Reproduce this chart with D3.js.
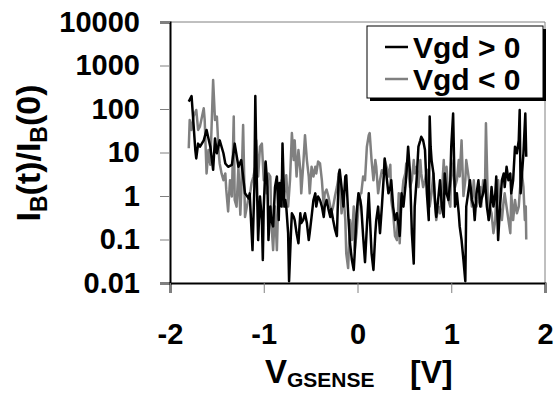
<!DOCTYPE html>
<html>
<head>
<meta charset="utf-8">
<script src="https://cdn.jsdelivr.net/npm/d3@7"></script>
<style>
  body { margin: 0; background: #fff; }
  svg { display: block; font-family: "Liberation Sans", Arial, sans-serif; font-weight: bold; }
</style>
</head>
<body>
<div id="chart"></div>
<script>
// tick labels
const yTicks = [0.01, 0.1, 1, 10, 100, 1000, 10000];
const yTickLabels = ["0.01", "0.1", "1", "10", "100", "1000", "10000"];
const xTicks = [-2, -1, 0, 1, 2];
const seriesNames = ["Vgd > 0", "Vgd < 0"];

// Vgd > 0 (black)
const blackV = [-1.80,-1.77,-1.73,-1.72,-1.70,-1.68,-1.64,-1.61,-1.57,-1.54,-1.52,-1.50,-1.47,-1.43,-1.41,-1.38,-1.34,-1.31,-1.27,-1.24,-1.20,-1.16,
  -1.15,-1.12,-1.10,-1.09,-1.08,-1.06,-1.04,-1.02,-1.01,-1.00,-0.98,-0.96,-0.95,-0.93,-0.92,-0.90,-0.88,-0.86,-0.84,-0.83,-0.81,-0.80,-0.78,-0.77,
  -0.76,-0.74,-0.73,-0.71,-0.70,-0.68,-0.67,-0.65,-0.63,-0.61,-0.60,-0.58,-0.56,-0.54,-0.52,-0.51,-0.49,-0.47,-0.45,-0.44,-0.42,-0.40,-0.38,-0.36,
  -0.35,-0.33,-0.31,-0.29,-0.28,-0.26,-0.24,-0.22,-0.20,-0.19,-0.17,-0.15,-0.13,-0.12,-0.10,-0.08,-0.06,-0.04,-0.03,-0.01,0.01,0.03,0.04,0.06,0.08,
  0.10,0.12,0.13,0.15,0.17,0.19,0.20,0.22,0.24,0.26,0.28,0.29,0.31,0.33,0.35,0.36,0.38,0.40,0.42,0.44,0.45,0.47,0.49,0.51,0.52,0.54,0.56,0.58,0.60,
  0.61,0.63,0.65,0.67,0.68,0.70,0.72,0.74,0.76,0.77,0.78,0.79,0.81,0.83,0.84,0.86,0.88,0.90,0.92,0.93,0.95,0.97,0.99,1.00,1.02,1.04,1.06,1.08,1.09,
  1.11,1.13,1.15,1.16,1.18,1.20,1.22,1.24,1.25,1.27,1.29,1.31,1.32,1.34,1.36,1.38,1.40,1.41,1.43,1.45,1.47,1.48,1.50,1.52,1.54,1.56,1.57,1.59,1.61,
  1.63,1.64,1.66,1.68,1.70,1.72,1.73,1.74,1.75,1.77,1.79,1.80];
const blackI = [148,199,11.4,7.3,16,13.6,19,33,13.6,4.0,21,9.6,19,9.6,5.6,4.7,5.2,16,4.7,6.7,1.15,0.88,
  1.15,0.057,1.6,199,9.6,0.097,0.97,0.28,0.034,0.57,6.2,1.6,0.097,0.57,0.28,0.20,1.6,2.8,0.28,2.0,0.57,16,0.57,0.81,
  0.57,0.14,0.011,0.14,0.40,0.33,0.28,0.14,0.082,0.40,0.24,0.28,0.40,0.24,0.097,0.14,0.33,0.81,1.15,0.57,0.97,0.81,0.57,0.33,
  0.57,0.81,0.5,0.33,0.5,0.28,0.17,0.12,3.2,4.0,1.6,0.57,2.8,3.0,0.40,0.082,0.034,0.020,0.048,0.40,1.15,0.81,0.57,0.12,0.03,
  0.20,1.15,0.40,0.048,0.020,0.14,0.28,0.57,0.14,0.57,2.8,7.3,2.8,1.15,1.6,2.3,0.57,0.28,0.40,0.20,0.12,1.15,0.57,1.6,2.8,13.6,3.3,0.14,0.028,
  0.57,2.3,13.6,19,23,19,11.4,1.15,0.28,67,13.6,6.7,3.3,0.57,0.33,0.81,2.3,0.57,0.33,3.3,1.15,0.81,2.3,13.6,79,0.57,1.15,0.40,0.20,
  0.097,0.034,0.011,0.57,1.15,2.3,0.81,0.57,0.28,1.15,2.3,0.57,0.81,1.15,2.3,0.57,0.28,0.40,1.6,0.57,1.15,2.8,0.097,0.57,2.3,3.3,1.6,4.7,2.3,
  3.3,1.15,2.3,13.6,9.6,19,95,1.15,2.3,9.6,79,8];

// Vgd < 0 (gray)
const grayV = [-1.80,-1.79,-1.77,-1.75,-1.72,-1.70,-1.68,-1.64,-1.63,-1.61,-1.59,-1.57,-1.54,-1.52,-1.50,-1.48,-1.47,-1.45,-1.43,-1.41,-1.40,-1.38,
  -1.36,-1.34,-1.32,-1.31,-1.29,-1.27,-1.25,-1.24,-1.22,-1.20,-1.18,-1.16,-1.15,-1.13,-1.11,-1.09,-1.08,-1.06,-1.04,-1.02,-1.00,-0.99,-0.97,-0.95,
  -0.93,-0.92,-0.90,-0.88,-0.86,-0.84,-0.83,-0.81,-0.79,-0.77,-0.76,-0.74,-0.72,-0.70,-0.68,-0.67,-0.65,-0.63,-0.61,-0.60,-0.58,-0.56,-0.54,-0.52,
  -0.51,-0.49,-0.47,-0.45,-0.44,-0.42,-0.40,-0.38,-0.36,-0.35,-0.33,-0.31,-0.29,-0.28,-0.26,-0.24,-0.22,-0.20,-0.19,-0.17,-0.15,-0.13,-0.12,-0.10,
  -0.08,-0.06,-0.04,-0.03,-0.01,0.01,0.03,0.04,0.06,0.08,0.10,0.12,0.13,0.15,0.17,0.19,0.20,0.22,0.24,0.26,0.28,0.29,0.31,0.33,0.35,0.36,0.38,
  0.40,0.42,0.44,0.45,0.47,0.49,0.51,0.52,0.54,0.56,0.58,0.60,0.61,0.63,0.65,0.67,0.68,0.70,0.72,0.74,0.76,0.77,0.79,0.81,0.83,0.84,0.86,0.88,0.90,
  0.92,0.93,0.95,0.97,0.99,1.00,1.02,1.04,1.06,1.08,1.09,1.11,1.13,1.15,1.16,1.18,1.20,1.22,1.24,1.25,1.27,1.29,1.31,1.32,1.34,1.36,1.37,1.39,1.40,
  1.41,1.43,1.45,1.47,1.48,1.50,1.52,1.54,1.56,1.57,1.59,1.61,1.63,1.64,1.66,1.68,1.70,1.72,1.73,1.75,1.77,1.785,1.795,1.80];
const grayI = [12.5,56,33,67,95,33,40,104,56,3.3,11.4,5.2,464,56,67,9.6,5.6,3.3,2.3,3.3,1.4,0.44,
  2.3,0.97,67,0.81,0.57,4.7,0.37,1.15,43,0.33,0.57,0.97,0.97,2.0,2.8,4.7,19,2.8,13.6,16,2.3,5.6,1.15,3.3,
  2.8,0.28,0.057,0.57,0.057,2.0,0.97,2.3,0.81,1.6,3.0,0.57,2.3,28,6.7,19,2.8,11.4,4.0,1.15,4.7,25,6.7,2.8,
  1.15,4.7,2.8,4.7,3.3,6.2,5.6,2.3,0.57,1.15,1.4,0.97,0.57,0.40,0.57,1.0,1.6,2.8,2.3,0.40,1.15,0.28,0.048,0.022,
  0.28,0.097,0.57,0.057,0.14,0.57,1.15,1.15,2.8,2.3,13.6,25,28,6.7,2.3,6.7,4.7,1.15,2.3,3.9,3.3,6.7,4.7,2.8,5.2,0.81,0.40,
  0.12,0.097,1.15,0.082,0.81,2.3,3.3,5.6,4.7,1.6,2.3,6.7,3.3,4.7,1.6,6.7,3.3,1.6,2.3,4.0,1.6,0.57,1.15,3.3,0.57,0.28,0.57,0.40,1.15,
  6.7,1.6,4.7,0.81,0.57,6.7,3.3,1.6,2.3,6.7,2.8,19,1.0,2.3,6.7,3.3,1.6,0.57,2.3,1.15,0.57,0.81,1.6,0.57,2.3,1.6,47,0.81,0.28,
  0.57,0.40,0.14,0.28,1.15,2.3,0.57,0.28,0.81,1.15,0.57,0.28,0.14,1.15,0.28,0.81,0.40,0.57,1.15,4.0,1.6,0.28,0.57,0.1];

const width = 556, height = 394;
const margin = {top: 22, left: 170, bottom: 111, right: 11};

const svg = d3.select("#chart").append("svg")
    .attr("width", width)
    .attr("height", height);

const x = d3.scaleLinear().domain([-2, 2]).range([margin.left, width - margin.right]);
const y = d3.scaleLog().domain([0.01, 10000]).range([height - margin.bottom, margin.top]);

// plot area frame (top/right are the light Excel border)
svg.append("path")
    .attr("d", `M${x(-2)},${y(10000)}H${x(2)}V${y(0.01)}`)
    .attr("fill", "none")
    .attr("stroke", "#808080")
    .attr("stroke-width", 1);

const line = d3.line()
    .x(d => x(d[0]))
    .y(d => y(d[1]));

const series = [
  {name: seriesNames[1], color: "#808080", pts: d3.zip(grayV, grayI)},
  {name: seriesNames[0], color: "#000000", pts: d3.zip(blackV, blackI)}
];

// black drawn on top of gray
svg.append("g")
  .selectAll("path")
  .data(series)
  .join("path")
    .attr("d", s => line(s.pts))
    .attr("fill", "none")
    .attr("stroke", s => s.color)
    .attr("stroke-width", 2.5)
    .attr("stroke-linejoin", "round");

// axes
const yAxis = d3.axisLeft(y)
    .tickValues(yTicks)
    .tickFormat((d, i) => yTickLabels[i])
    .tickSize(10)
    .tickPadding(20);

svg.append("g")
    .attr("transform", `translate(${margin.left},0)`)
    .call(yAxis)
    .call(g => g.select(".domain").attr("stroke", "#000").attr("stroke-width", 2))
    .call(g => g.selectAll(".tick line").attr("stroke", "#808080"))
    .call(g => g.selectAll("text")
        .attr("font-size", 29)
        .attr("font-weight", "bold")
        .attr("fill", "#000")
        .attr("font-family", "Liberation Sans, Arial, sans-serif"));

const xAxis = d3.axisBottom(x)
    .tickValues(xTicks)
    .tickFormat(d3.format("d"))
    .tickSize(10)
    .tickPadding(30);

svg.append("g")
    .attr("transform", `translate(0,${height - margin.bottom})`)
    .call(xAxis)
    .call(g => g.select(".domain").attr("stroke", "#000").attr("stroke-width", 2))
    .call(g => g.selectAll(".tick line").attr("stroke", "#808080"))
    .call(g => g.selectAll("text")
        .text(d => d < 0 ? "-" + Math.abs(d) : d)
        .attr("font-size", 29)
        .attr("font-weight", "bold")
        .attr("fill", "#000")
        .attr("font-family", "Liberation Sans, Arial, sans-serif"));

// axis titles
const xTitle = svg.append("text")
    .attr("x", 265)
    .attr("y", 383)
    .attr("font-size", 33);
xTitle.append("tspan").text("V");
xTitle.append("tspan").attr("font-size", 21).attr("dy", 4).text("GSENSE");
svg.append("text")
    .attr("x", 410)
    .attr("y", 383)
    .attr("font-size", 32)
    .text("[V]");

const yTitle = svg.append("text")
    .attr("transform", "translate(40,153) rotate(-90)")
    .attr("text-anchor", "middle")
    .attr("font-size", 34);
yTitle.append("tspan").text("I");
yTitle.append("tspan").attr("font-size", 23).attr("dy", 7).text("B");
yTitle.append("tspan").attr("dy", -7).text("(t)/I");
yTitle.append("tspan").attr("font-size", 23).attr("dy", 7).text("B");
yTitle.append("tspan").attr("dy", -7).text("(0)");

// legend
const legend = svg.append("g").attr("transform", "translate(367,26)");
legend.append("rect")
    .attr("x", 3).attr("y", 3)
    .attr("width", 176).attr("height", 72)
    .attr("fill", "#000");
legend.append("rect")
    .attr("width", 176).attr("height", 72)
    .attr("fill", "#fff")
    .attr("stroke", "#000")
    .attr("stroke-width", 1);

const items = legend.selectAll("g.item")
  .data([series[1], series[0]])
  .join("g")
    .attr("class", "item")
    .attr("transform", (d, i) => `translate(0,${21 + i * 32})`);
items.append("line")
    .attr("x1", 18).attr("x2", 41)
    .attr("stroke", d => d.color)
    .attr("stroke-width", 2.5);
items.append("text")
    .attr("x", 46)
    .attr("y", 11)
    .attr("font-size", 30)
    .text(d => d.name);
</script>
</body>
</html>
